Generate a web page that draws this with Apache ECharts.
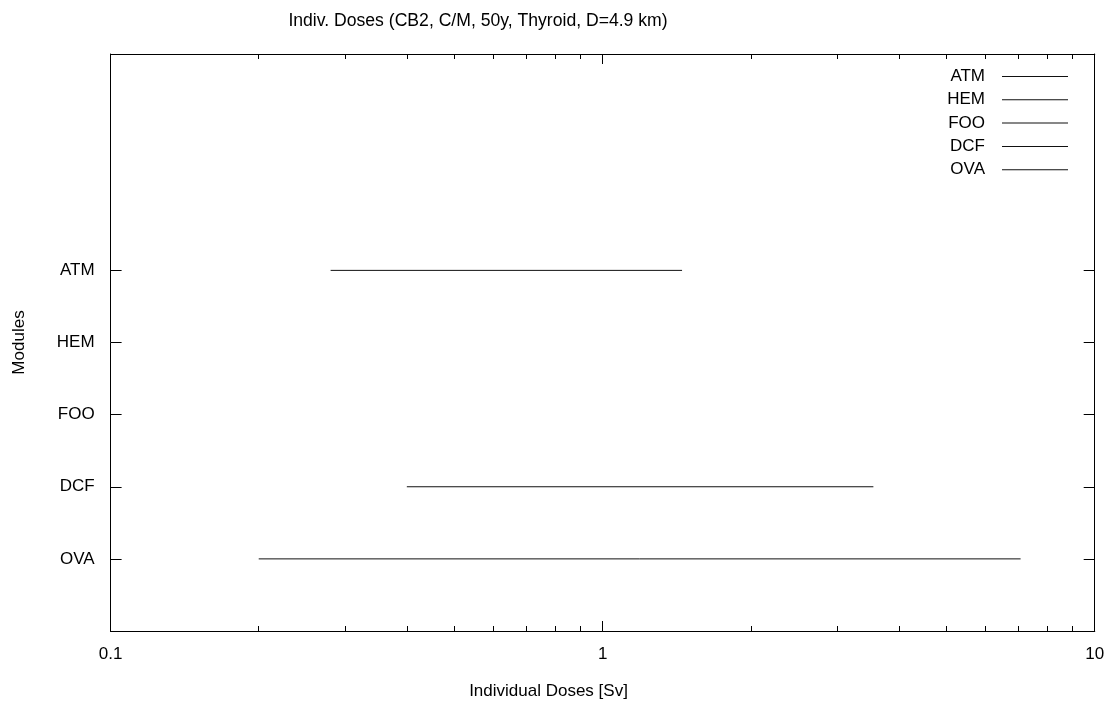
<!DOCTYPE html>
<html><head><meta charset="utf-8">
<script src="https://cdn.jsdelivr.net/npm/echarts@6/dist/echarts.min.js"></script>
<style>html,body{margin:0;padding:0;background:#fff}#c{width:1119px;height:702px}</style>
</head><body><div id="c"></div>
<script>
var modules = ['ATM', 'HEM', 'FOO', 'DCF', 'OVA'];
var modulePos = [5, 4, 3, 2, 1];
var lowDose = [0.28, null, null, 0.40, 0.20];
var highDose = [1.45, null, null, 3.55, 7.07];
var xMajorTicks = [0.1, 1, 10];
var xMinorTicks = [0.2, 0.3, 0.4, 0.5, 0.6, 0.7, 0.8, 0.9, 2, 3, 4, 5, 6, 7, 8, 9];

var FONT = 'Liberation Sans, Arial, sans-serif';
var FS = 17;
var series = modules.map(function (m, i) {
  var data = lowDose[i] == null ? [] : [[lowDose[i], modulePos[i]], [highDose[i], modulePos[i]]];
  return {
    name: m, type: 'line', data: data, symbol: 'none', color: '#111',
    lineStyle: { color: '#111', width: 1 }, xAxisIndex: 0, yAxisIndex: 0, silent: true
  };
});

var logAxis = function (pos, labels, ticks, len) {
  return {
    type: 'log', logBase: 10, min: 0.1, max: 10, position: pos, gridIndex: 0,
    axisLine: { show: true, lineStyle: { color: '#000', width: 1 } },
    axisTick: { show: true, inside: true, length: len, customValues: ticks, lineStyle: { color: '#000' } },
    axisLabel: labels ? { show: true, customValues: xMajorTicks, color: '#000', fontSize: FS, fontFamily: FONT, margin: 15,
      formatter: function (v) { return String(+v.toPrecision(3)); } } : { show: false },
    splitLine: { show: false }, minorTick: { show: false }
  };
};
var yAx = function (pos, labels) {
  return {
    type: 'value', min: 0, max: 8, interval: 1, position: pos,
    name: labels ? 'Modules' : '', nameLocation: 'middle', nameGap: 83, nameRotate: 90,
    nameTextStyle: { color: '#000', fontSize: FS, fontFamily: FONT },
    axisLine: { show: true, lineStyle: { color: '#000', width: 1 } },
    axisTick: { show: true, inside: true, length: 11, customValues: modulePos, lineStyle: { color: '#000' } },
    axisLabel: labels ? { show: true, customValues: modulePos, color: '#000', fontSize: FS, fontFamily: FONT, margin: 16,
      formatter: function (v) { var k = modulePos.indexOf(Math.round(v)); return k >= 0 ? modules[k] : ''; } } : { show: false },
    splitLine: { show: false }
  };
};

var chart = echarts.init(document.getElementById('c'), null, { renderer: 'canvas' });
chart.setOption({
  animation: false,
  backgroundColor: '#fff',
  title: [
    { text: 'Indiv. Doses (CB2, C/M, 50y, Thyroid, D=4.9 km)', left: 473, top: 7, textAlign: 'center',
      textStyle: { fontSize: 17.6, fontWeight: 'normal', color: '#000', fontFamily: FONT } },
    { text: 'Individual Doses [Sv]', left: 543.5, top: 678, textAlign: 'center',
      textStyle: { fontSize: FS, fontWeight: 'normal', color: '#000', fontFamily: FONT } }
  ],
  grid: { left: 110.6, right: 24.3, top: 54, bottom: 71, containLabel: false },
  legend: {
    orient: 'vertical', right: 46, top: 63, align: 'right', itemGap: 6.3,
    itemWidth: 66, itemHeight: 1, icon: 'rect',
    textStyle: { color: '#000', fontSize: FS, fontFamily: FONT, padding: [0, 12, 0, 0] },
    data: modules, selectedMode: false
  },
  xAxis: [
    logAxis('bottom', true, xMajorTicks, 10),
    logAxis('bottom', false, xMinorTicks, 5),
    logAxis('top', false, xMajorTicks, 10),
    logAxis('top', false, xMinorTicks, 5)
  ],
  yAxis: [yAx('left', true), yAx('right', false)],
  series: series
});
</script>
</body></html>
